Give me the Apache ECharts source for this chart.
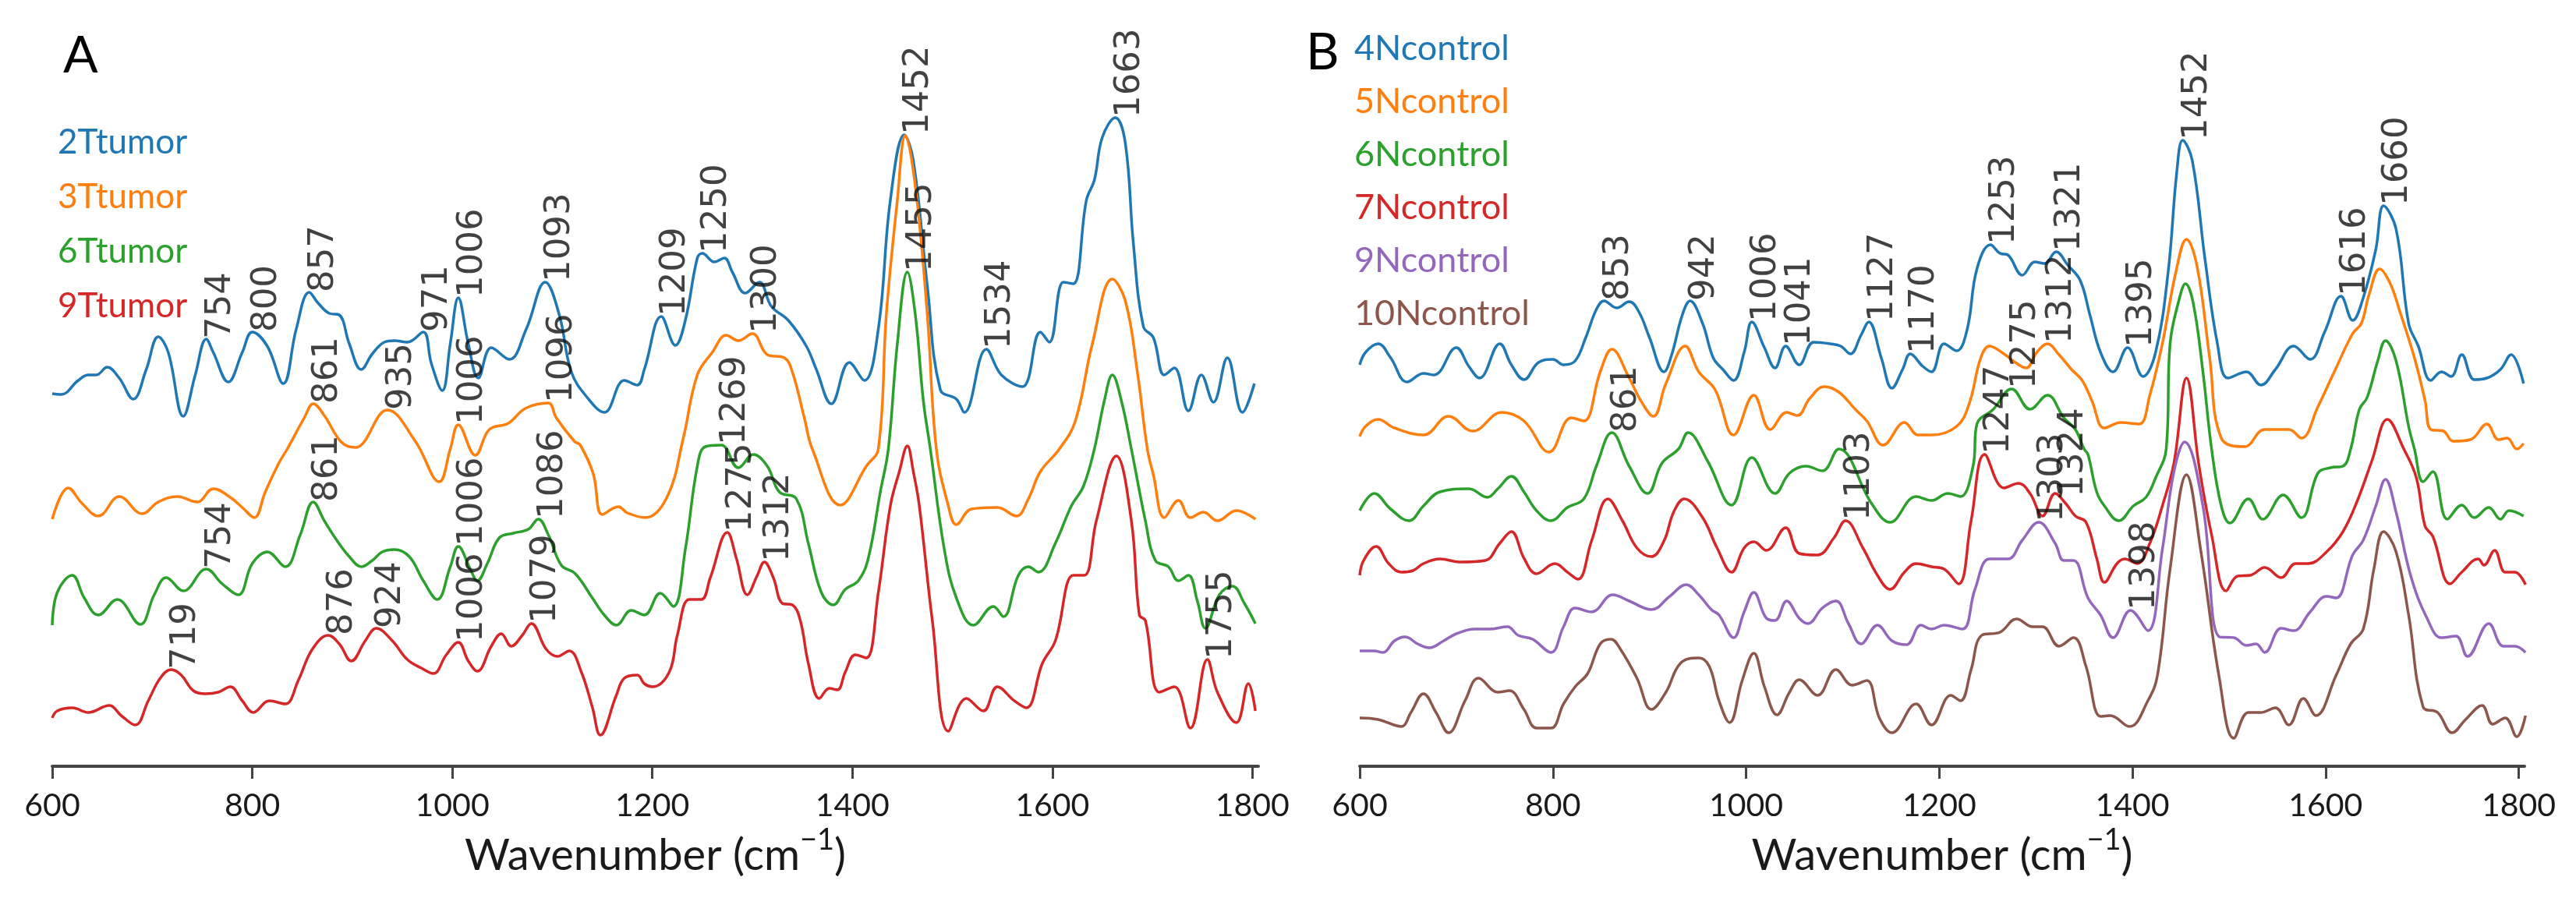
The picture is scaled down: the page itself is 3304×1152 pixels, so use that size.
<!DOCTYPE html>
<html>
<head>
<meta charset="utf-8">
<script src="https://cdn.jsdelivr.net/npm/echarts@6/dist/echarts.min.js"></script>
<style>
  html, body { margin: 0; background: #fff; }
  #chart { width: 3304px; height: 1152px; }
</style>
</head>
<body>
<div id="chart"></div>
<script>
// Raman spectra, stacked with offsets, intensity in arbitrary units
// panel A: tumor samples
const s2Ttumor = [[600,478],[609,477],[626,495],[636,502],[644,502],[655,512],[667,498],[681,471],[694,509],[706,551],[716,531],[731,449],[743,502],[754,548],[761,531],[776,493],[790,531],[800,557],[815,539],[831,491],[844,561],[857,608],[866,594],[877,581],[887,579],[897,542],[909,509],[920,529],[932,544],[942,546],[955,544],[971,557],[979,517],[990,482],[998,542],[1006,601],[1016,542],[1026,498],[1039,537],[1057,522],[1074,561],[1093,621],[1107,579],[1119,506],[1135,473],[1152,454],[1172,495],[1185,489],[1192,509],[1209,577],[1223,540],[1233,572],[1245,652],[1250,658],[1262,647],[1272,652],[1280,634],[1293,607],[1307,621],[1319,590],[1336,572],[1354,539],[1364,509],[1379,465],[1397,518],[1412,495],[1426,561],[1438,726],[1452,810],[1461,777],[1475,616],[1488,483],[1504,471],[1512,454],[1534,535],[1549,502],[1570,487],[1588,557],[1597,544],[1611,621],[1621,619],[1634,726],[1642,752],[1650,807],[1663,832],[1673,799],[1681,671],[1691,564],[1701,550],[1712,502],[1722,511],[1736,456],[1749,502],[1761,467],[1775,524],[1790,454],[1802,491]];
const s3Ttumor = [[600,317],[616,357],[630,337],[646,321],[667,346],[690,324],[706,339],[725,346],[745,339],[761,356],[778,345],[790,332],[802,319],[813,352],[827,390],[835,407],[852,447],[861,465],[872,450],[889,416],[903,409],[935,457],[963,417],[987,365],[998,407],[1006,438],[1023,399],[1037,432],[1056,440],[1073,459],[1096,466],[1104,447],[1122,417],[1128,412],[1141,375],[1150,323],[1166,333],[1175,325],[1193,319],[1215,346],[1231,421],[1245,502],[1260,531],[1274,553],[1286,546],[1300,555],[1315,528],[1332,524],[1340,506],[1352,447],[1360,407],[1388,335],[1414,385],[1426,407],[1434,579],[1445,726],[1453,809],[1463,744],[1475,579],[1484,407],[1496,334],[1504,310],[1519,330],[1545,332],[1564,321],[1576,343],[1588,378],[1607,407],[1623,443],[1640,542],[1660,625],[1673,597],[1685,506],[1695,407],[1701,374],[1712,319],[1726,341],[1738,319],[1751,326],[1765,315],[1784,328],[1803,317]];
const s6Ttumor = [[600,181],[605,223],[620,245],[632,216],[646,194],[665,214],[688,182],[702,220],[714,242],[731,225],[754,253],[770,234],[786,220],[800,260],[815,275],[833,256],[848,297],[861,339],[872,315],[885,289],[897,269],[909,256],[920,264],[930,275],[942,278],[957,269],[971,238],[985,214],[998,256],[1006,282],[1018,253],[1025,238],[1035,260],[1047,293],[1061,299],[1076,304],[1086,317],[1096,297],[1109,258],[1123,247],[1140,216],[1152,194],[1164,181],[1179,200],[1192,194],[1208,222],[1221,205],[1233,278],[1245,385],[1253,410],[1269,412],[1286,383],[1301,400],[1315,385],[1327,352],[1344,343],[1356,286],[1369,223],[1381,207],[1393,227],[1406,238],[1416,267],[1428,352],[1436,407],[1445,542],[1455,634],[1463,579],[1471,469],[1478,407],[1492,278],[1504,216],[1521,181],[1541,205],[1551,192],[1566,245],[1576,256],[1586,249],[1603,286],[1619,334],[1631,359],[1642,407],[1652,469],[1660,502],[1669,469],[1679,407],[1693,315],[1703,264],[1716,256],[1726,238],[1736,245],[1745,212],[1753,177],[1767,220],[1780,231],[1792,209],[1803,183]];
const s9Ttumor = [[600,62],[605,71],[620,75],[636,69],[657,78],[669,65],[683,53],[696,84],[708,113],[719,124],[729,117],[741,97],[753,93],[766,95],[778,102],[790,84],[801,69],[817,84],[833,80],[846,110],[860,150],[876,168],[887,157],[899,135],[913,161],[924,177],[940,161],[955,137],[969,126],[981,119],[994,143],[1006,159],[1016,135],[1025,122],[1039,154],[1049,170],[1059,154],[1070,168],[1079,183],[1094,150],[1105,141],[1117,148],[1129,121],[1140,76],[1148,40],[1164,91],[1172,113],[1185,117],[1192,106],[1200,102],[1217,121],[1225,168],[1237,214],[1249,214],[1258,242],[1275,300],[1284,267],[1295,220],[1305,245],[1312,262],[1321,242],[1330,209],[1340,207],[1348,187],[1356,132],[1367,87],[1377,100],[1385,98],[1393,121],[1403,143],[1414,139],[1426,223],[1438,334],[1447,378],[1455,411],[1461,378],[1467,334],[1480,187],[1496,45],[1514,87],[1531,71],[1545,102],[1562,84],[1574,75],[1590,132],[1603,161],[1621,245],[1632,245],[1644,315],[1664,398],[1679,315],[1687,194],[1693,187],[1707,95],[1722,102],[1738,49],[1755,137],[1765,95],[1784,56],[1796,106],[1803,71]];

// panel B: control samples
const s4Ncontrol = [[600,515],[606,531],[619,542],[632,524],[649,493],[666,504],[677,502],[700,537],[713,513],[724,498],[745,542],[757,515],[770,496],[785,518],[800,522],[811,515],[823,520],[834,550],[845,586],[853,597],[866,588],[879,596],[889,583],[900,550],[915,506],[923,528],[934,579],[942,597],[955,568],[966,524],[976,509],[987,495],[998,531],[1006,570],[1019,537],[1030,511],[1041,539],[1055,515],[1070,544],[1087,542],[1098,539],[1108,529],[1119,553],[1127,570],[1140,524],[1151,485],[1162,509],[1170,529],[1183,513],[1192,506],[1205,542],[1218,533],[1229,561],[1239,638],[1253,669],[1263,658],[1271,656],[1286,630],[1299,647],[1309,645],[1321,660],[1333,643],[1346,623],[1356,579],[1367,531],[1380,506],[1395,537],[1411,500],[1424,531],[1437,634],[1446,763],[1452,803],[1462,777],[1475,652],[1488,542],[1499,498],[1518,506],[1533,489],[1548,509],[1567,539],[1584,522],[1599,557],[1616,603],[1628,572],[1639,601],[1652,663],[1660,719],[1673,689],[1686,568],[1696,539],[1709,495],[1720,506],[1730,500],[1741,528],[1754,496],[1767,498],[1781,509],[1792,528],[1805,491]];
const s5Ncontrol = [[600,423],[606,436],[619,445],[636,434],[666,425],[692,449],[717,430],[747,454],[770,443],[796,403],[819,447],[832,443],[849,506],[861,535],[879,498],[891,469],[904,449],[917,491],[937,539],[951,506],[968,483],[987,425],[1008,476],[1025,432],[1042,454],[1053,450],[1066,472],[1081,487],[1096,480],[1113,458],[1125,443],[1142,412],[1164,441],[1178,425],[1192,425],[1218,436],[1231,465],[1243,524],[1252,539],[1267,529],[1280,517],[1290,511],[1301,531],[1312,542],[1324,528],[1337,509],[1348,495],[1358,469],[1371,434],[1388,441],[1407,439],[1418,476],[1431,542],[1445,634],[1456,676],[1467,641],[1480,524],[1492,421],[1516,410],[1537,432],[1562,432],[1575,421],[1592,461],[1609,506],[1628,555],[1637,568],[1645,605],[1656,638],[1667,619],[1677,583],[1692,524],[1703,469],[1709,432],[1722,430],[1732,417],[1750,419],[1767,439],[1779,419],[1788,421],[1798,407],[1805,414]];
const s6Ncontrol = [[600,328],[615,350],[632,330],[651,315],[666,334],[683,352],[713,356],[732,345],[743,356],[757,372],[770,352],[783,328],[798,315],[815,332],[832,343],[845,385],[861,428],[879,385],[898,350],[913,389],[930,407],[940,428],[960,392],[985,335],[1006,396],[1030,350],[1045,376],[1062,385],[1079,379],[1096,407],[1130,337],[1149,313],[1176,346],[1192,341],[1209,350],[1222,346],[1235,385],[1239,439],[1256,458],[1275,484],[1294,458],[1312,476],[1329,447],[1341,432],[1350,407],[1354,400],[1363,352],[1371,334],[1386,315],[1401,334],[1414,345],[1424,370],[1435,407],[1439,542],[1448,597],[1455,619],[1463,594],[1473,506],[1482,407],[1492,334],[1501,312],[1520,343],[1535,317],[1556,348],[1575,319],[1592,376],[1605,383],[1618,385],[1626,407],[1635,458],[1643,473],[1654,520],[1662,546],[1673,520],[1686,436],[1692,407],[1701,365],[1711,378],[1726,317],[1741,335],[1754,319],[1769,332],[1781,317],[1790,328],[1805,321]];
const s7Ncontrol = [[600,245],[604,264],[617,282],[630,260],[643,249],[655,251],[666,260],[683,266],[704,262],[730,264],[745,286],[757,301],[770,267],[783,247],[802,260],[815,249],[826,240],[840,289],[857,343],[872,315],[887,280],[902,269],[915,289],[925,326],[936,343],[955,319],[970,280],[985,249],[998,280],[1008,288],[1021,277],[1041,306],[1055,273],[1074,271],[1091,293],[1103,315],[1121,280],[1136,245],[1149,227],[1164,249],[1176,260],[1192,256],[1205,253],[1220,234],[1233,315],[1247,400],[1267,357],[1282,363],[1294,350],[1307,321],[1320,350],[1331,337],[1341,321],[1352,313],[1363,267],[1371,236],[1384,260],[1392,266],[1405,260],[1418,286],[1431,334],[1443,389],[1456,498],[1469,385],[1482,297],[1497,225],[1509,244],[1522,245],[1537,255],[1554,242],[1569,260],[1582,260],[1601,275],[1618,301],[1633,341],[1648,392],[1664,445],[1681,407],[1694,370],[1703,308],[1711,295],[1729,234],[1741,249],[1758,266],[1764,258],[1775,277],[1786,249],[1796,249],[1807,233]];
const s9Ncontrol = [[600,148],[615,148],[624,146],[636,161],[647,166],[660,157],[672,152],[687,161],[700,170],[719,176],[734,176],[753,179],[764,168],[779,163],[798,146],[811,179],[823,203],[840,198],[862,220],[879,212],[902,201],[921,218],[938,233],[951,220],[964,201],[972,194],[987,165],[998,198],[1008,223],[1021,190],[1030,187],[1042,212],[1055,190],[1064,183],[1079,203],[1093,212],[1106,183],[1119,157],[1136,181],[1151,161],[1166,156],[1181,181],[1192,176],[1205,181],[1224,176],[1237,227],[1252,266],[1271,266],[1286,290],[1303,313],[1320,286],[1329,264],[1339,264],[1354,216],[1367,194],[1380,165],[1398,200],[1416,174],[1431,278],[1443,378],[1454,416],[1473,334],[1490,166],[1505,165],[1518,155],[1528,157],[1537,146],[1554,177],[1567,174],[1584,198],[1601,218],[1611,216],[1628,271],[1639,290],[1652,334],[1662,368],[1673,326],[1688,245],[1705,190],[1720,165],[1735,167],[1747,141],[1769,183],[1784,154],[1796,154],[1807,146]];
const s10Ncontrol = [[600,62],[619,60],[643,51],[653,69],[666,93],[679,69],[692,43],[709,84],[723,113],[743,95],[755,97],[770,73],[783,49],[798,49],[811,80],[823,102],[836,119],[849,157],[860,163],[870,150],[887,113],[902,73],[917,95],[932,132],[951,139],[962,128],[972,84],[983,56],[996,110],[1008,145],[1019,102],[1032,66],[1045,95],[1055,111],[1074,91],[1093,124],[1110,104],[1125,110],[1138,62],[1151,43],[1176,80],[1192,53],[1212,91],[1222,84],[1233,124],[1244,168],[1263,172],[1280,189],[1297,179],[1307,179],[1324,154],[1339,165],[1352,128],[1367,64],[1377,65],[1397,51],[1416,84],[1426,117],[1439,253],[1456,374],[1471,275],[1490,113],[1505,36],[1520,69],[1533,69],[1548,75],[1562,53],[1577,87],[1590,65],[1611,117],[1626,157],[1639,176],[1650,253],[1660,301],[1673,275],[1686,194],[1701,76],[1716,69],[1731,43],[1745,60],[1762,78],[1773,54],[1786,62],[1798,38],[1807,65]];

const namesA = ['2Ttumor', '3Ttumor', '6Ttumor', '9Ttumor'];
const namesB = ['4Ncontrol', '5Ncontrol', '6Ncontrol', '7Ncontrol', '9Ncontrol', '10Ncontrol'];
const colors = ['#1f77b4', '#ff7f0e', '#2ca02c', '#d62728', '#9467bd', '#8c564b'];
const xTicks = [600, 800, 1000, 1200, 1400, 1600, 1800];

// peak annotations: [sample, wavenumber]
const peaksA = [
  ['2Ttumor', 754], ['2Ttumor', 800], ['2Ttumor', 857], ['2Ttumor', 971], ['2Ttumor', 1006],
  ['2Ttumor', 1093], ['2Ttumor', 1209], ['2Ttumor', 1250], ['2Ttumor', 1452], ['2Ttumor', 1534],
  ['2Ttumor', 1663],
  ['3Ttumor', 861], ['3Ttumor', 935], ['3Ttumor', 1006], ['3Ttumor', 1096], ['3Ttumor', 1300],
  ['6Ttumor', 754], ['6Ttumor', 861], ['6Ttumor', 1006], ['6Ttumor', 1086], ['6Ttumor', 1269],
  ['6Ttumor', 1455],
  ['9Ttumor', 719], ['9Ttumor', 876], ['9Ttumor', 924], ['9Ttumor', 1006], ['9Ttumor', 1079],
  ['9Ttumor', 1275], ['9Ttumor', 1312], ['9Ttumor', 1755]
];
const peaksB = [
  ['4Ncontrol', 853], ['4Ncontrol', 942], ['4Ncontrol', 1006], ['4Ncontrol', 1041], ['4Ncontrol', 1127],
  ['4Ncontrol', 1170], ['4Ncontrol', 1253], ['4Ncontrol', 1321], ['4Ncontrol', 1395], ['4Ncontrol', 1452],
  ['4Ncontrol', 1616], ['4Ncontrol', 1660],
  ['5Ncontrol', 1312],
  ['6Ncontrol', 861], ['6Ncontrol', 1275],
  ['7Ncontrol', 1103], ['7Ncontrol', 1247], ['7Ncontrol', 1324],
  ['9Ncontrol', 1303], ['9Ncontrol', 1398]
];

const spectra = {
  '2Ttumor': s2Ttumor, '3Ttumor': s3Ttumor, '6Ttumor': s6Ttumor, '9Ttumor': s9Ttumor,
  '4Ncontrol': s4Ncontrol, '5Ncontrol': s5Ncontrol, '6Ncontrol': s6Ncontrol,
  '7Ncontrol': s7Ncontrol, '9Ncontrol': s9Ncontrol, '10Ncontrol': s10Ncontrol
};

function interp(pts, x) {
  for (let i = 1; i < pts.length; i++) {
    if (pts[i][0] >= x) {
      const a = pts[i - 1], b = pts[i];
      return a[1] + (b[1] - a[1]) * (x - a[0]) / (b[0] - a[0]);
    }
  }
  return pts[pts.length - 1][1];
}

function makeX(gridIndex) {
  return {
    type: 'value', gridIndex: gridIndex, min: 600, max: 1806,
    name: '{t|Wavenumber (cm}{s|\u22121}{t|)}',
    nameLocation: 'middle', nameGap: 74,
    nameTextStyle: {
      rich: {
        t: { fontFamily: 'Lato', fontSize: 56, lineHeight: 80, color: '#1a1a1a', verticalAlign: 'middle' },
        // superscript: bottom padding lifts the glyphs above the line centre
        s: { fontFamily: 'Lato', fontSize: 38, lineHeight: 38, padding: [0, 0, 40, 0], color: '#1a1a1a', verticalAlign: 'middle' }
      }
    },
    axisLine: { show: true, onZero: false, lineStyle: { color: '#444', width: 4 } },
    axisTick: { show: true, customValues: xTicks, length: 16, lineStyle: { color: '#444', width: 3 } },
    axisLabel: {
      customValues: xTicks, margin: 30, formatter: v => String(v),
      fontFamily: 'Lato', fontSize: 41, color: '#1a1a1a'
    },
    splitLine: { show: false }
  };
}
function makeY(gridIndex) {
  return { type: 'value', gridIndex: gridIndex, min: 0, max: 983, show: false };
}

const series = [];
function addPanel(names, peaks, gi) {
  names.forEach((n, i) => {
    series.push({
      name: n, type: 'line', xAxisIndex: gi, yAxisIndex: gi,
      data: spectra[n], showSymbol: false, smooth: 0.4,
      lineStyle: { width: 3.5, color: colors[i] }, itemStyle: { color: colors[i] },
      z: 2 + i
    });
  });
  series.push({
    type: 'scatter', xAxisIndex: gi, yAxisIndex: gi, silent: true, symbolSize: 0, z: 10,
    data: peaks.map(p => [p[1], interp(spectra[p[0]], p[1]), String(p[1])]),
    label: {
      show: true, position: [0, 0], rotate: 90, align: 'left', verticalAlign: 'top',
      offset: [0, -4],
      formatter: p => p.data[2],
      fontFamily: 'DejaVu Sans', fontSize: 45, color: '#111'
    }
  });
}
addPanel(namesA, peaksA, 0);
addPanel(namesB, peaksB, 1);

function makeLegend(names, left, top, gap, size) {
  return {
    orient: 'vertical', left: left, top: top, itemWidth: 0, itemHeight: 0, itemGap: gap,
    selectedMode: false, icon: 'rect',
    data: names.map((n, i) => ({
      name: n, textStyle: { color: colors[i], fontFamily: 'Lato', fontSize: size, lineHeight: size }
    })),
    textStyle: { fontFamily: 'Lato', fontSize: size, lineHeight: size, padding: 0 }
  };
}

const chart = echarts.init(document.getElementById('chart'));
chart.setOption({
  animation: false,
  backgroundColor: '#fff',
  title: [
    { text: 'A', left: 76, top: 34, textStyle: { fontFamily: 'Lato', fontWeight: 'normal', fontSize: 66, color: '#000' } },
    { text: 'B', left: 1670, top: 30, textStyle: { fontFamily: 'Lato', fontWeight: 'normal', fontSize: 66, color: '#000' } }
  ],
  legend: [
    makeLegend(namesA, 64, 156, 26, 44),
    makeLegend(namesB, 1727, 35, 23, 45)
  ],
  grid: [
    { left: 67, top: 0, width: 1547, height: 983 },
    { left: 1744, top: 0, width: 1494, height: 983 }
  ],
  xAxis: [makeX(0), makeX(1)],
  yAxis: [makeY(0), makeY(1)],
  series: series
});
</script>
</body>
</html>
